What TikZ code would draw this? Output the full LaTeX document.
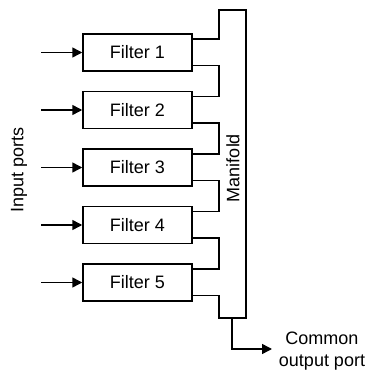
\documentclass[tikz,border=0pt]{standalone}
\usepackage{fontspec}
\setmainfont{Liberation Sans}
\usetikzlibrary{
  arrows.meta,
  positioning,
  calc
}

\begin{document}
\begin{tikzpicture}[
  x=1pt, y=1pt,
  line width=1.5pt,
  every node/.style={font=\fontsize{18}{21.5}\selectfont},
  filter/.style={draw, minimum width=109pt, minimum height=37pt,
                 inner sep=0pt},
  inarrow/.style={-{Triangle[length=10pt,width=10pt]}},
]
\useasboundingbox (0,0) rectangle (369,372);

\node[filter] (f1) at (137.5, 319.5) {Filter 1};
\node[filter] (f2) at (137.5, 262)   {Filter 2};
\node[filter] (f3) at (137.5, 204.5) {Filter 3};
\node[filter] (f4) at (137.5, 147)   {Filter 4};
\node[filter] (f5) at (137.5, 89.5)  {Filter 5};

% input ports
\foreach \f in {f1,f2,f3,f4,f5}
  \draw[inarrow] (\f.west) ++(-41,0) coordinate (in-\f) -- (\f.west);
\node[rotate=90] (inlabel) at (19, 202) {Input ports};

% manifold outline
\coordinate (mtop) at (219, 362);
\coordinate (mbot) at (246, 54);
\draw ($(f1.north east)+(0,-6)$) -| (mtop) -- (mtop -| mbot)
  -- (mbot) -- (mbot -| mtop) |- ($(f5.south east)+(0,6)$);
\draw ($(f1.south east)+(0,6)$) -| (mtop |- f1.south) |- ($(f2.north east)+(0,-6)$);
\draw ($(f2.south east)+(0,6)$) -| (mtop |- f2.south) |- ($(f3.north east)+(0,-6)$);
\draw ($(f3.south east)+(0,6)$) -| (mtop |- f3.south) |- ($(f4.north east)+(0,-6)$);
\draw ($(f4.south east)+(0,6)$) -| (mtop |- f4.south) |- ($(f5.north east)+(0,-6)$);
\node[rotate=90] (manifold) at (233, 204) {Manifold};

% common output
\node[align=center] (out) at (322, 21) {Common\\output port};
\coordinate (outstart) at (232, 54);
\coordinate (outend) at (272, 23);
\draw[inarrow] (outstart) |- (outend);

\end{tikzpicture}
\end{document}
